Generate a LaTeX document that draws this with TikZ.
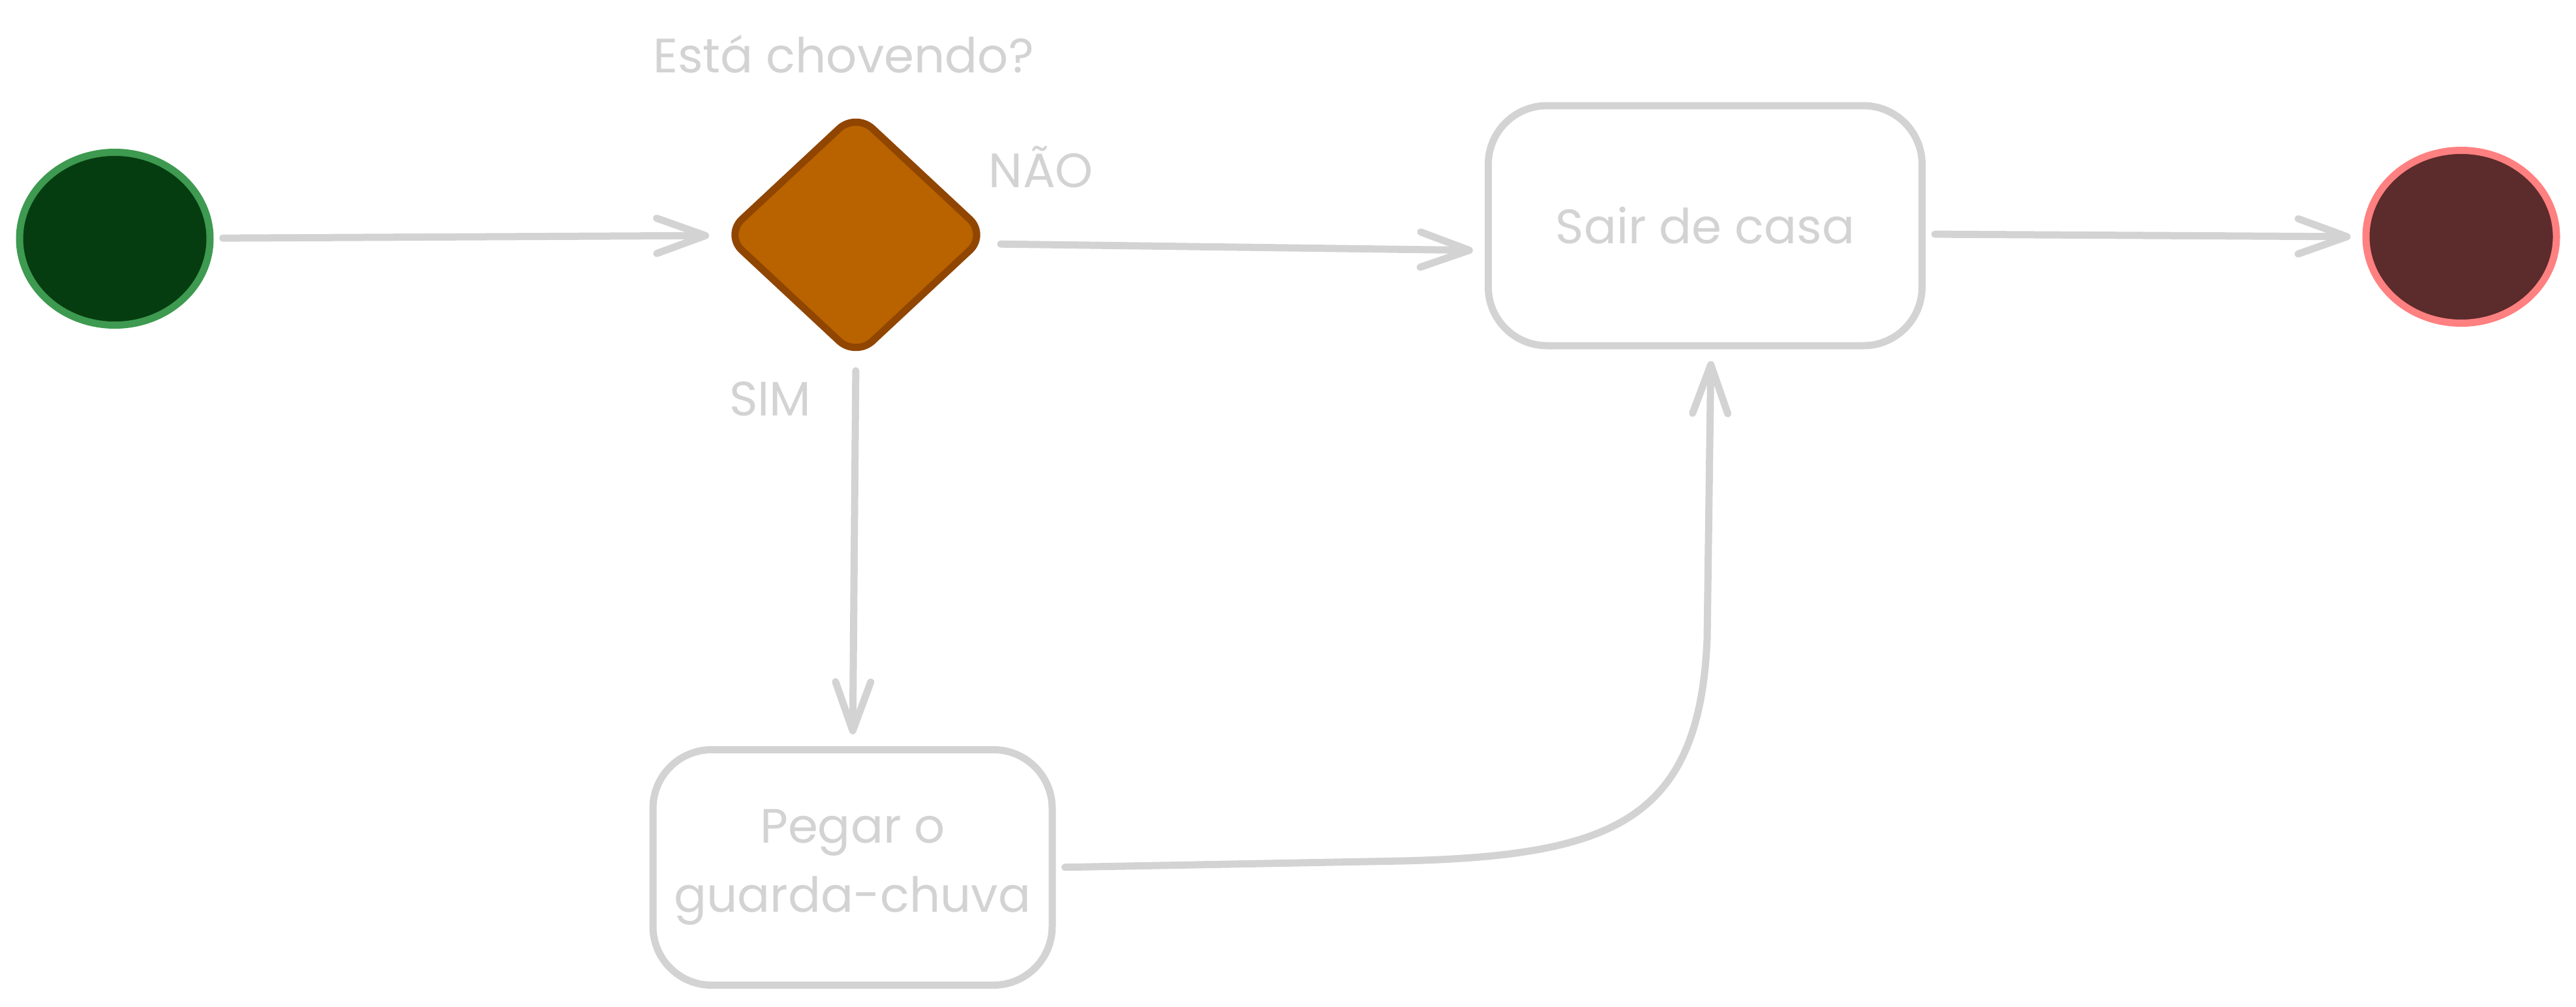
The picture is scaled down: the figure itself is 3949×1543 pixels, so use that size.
\documentclass[tikz,border=0pt]{standalone}
\usepackage{fontspec}
\setmainfont{Poppins}
\usetikzlibrary{shapes.geometric,arrows.meta}

\definecolor{lineGray}{HTML}{D3D3D3}
\definecolor{startFill}{HTML}{053D10}
\definecolor{startLine}{HTML}{3D9A50}
\definecolor{decFill}{HTML}{B86200}
\definecolor{decLine}{HTML}{904500}
\definecolor{endFill}{HTML}{5C2B2B}
\definecolor{endLine}{HTML}{FF8080}

\begin{document}
\begin{tikzpicture}[x=1pt,y=-1pt,
    lbl/.style={text=lineGray,font=\fontsize{74}{106}\selectfont},
    initial/.style={ellipse,draw=startLine,fill=startFill,line width=11pt,
        minimum width=292pt,minimum height=265pt,inner sep=0pt},
    final/.style={ellipse,draw=endLine,fill=endFill,line width=11pt,
        minimum width=292pt,minimum height=265pt,inner sep=0pt},
    decision/.style={diamond,draw=decLine,fill=decFill,line width=11pt,
        minimum width=405pt,minimum height=378pt,inner sep=0pt,rounded corners=35pt},
    action/.style={rectangle,draw=lineGray,fill=white,line width=11pt,
        rounded corners=90pt,lbl,align=center},
    flow/.style={draw=lineGray,line width=11pt,line cap=round,
        -{Straight Barb[length=75pt,width=54pt,round]},
        shorten <=14pt,shorten >=18pt}]
\fill[white] (0,0) rectangle (3949,1543);
\useasboundingbox (0,0) rectangle (3949,1543);

% states
\node[initial] (start) at (176,366) {};
\node[decision] (dec) at (1312,360) {};
\node[action,minimum width=665pt,minimum height=368pt] (sair) at (2614,346) {Sair de casa};
\node[action,minimum width=612pt,minimum height=361pt] (pegar) at (1307,1330) {Pegar o\\guarda-chuva};
\node[final] (end) at (3773,363) {};

% labels
\node[lbl,anchor=base] (pergunta) at (1293,111) {Está chovendo?};
\node[lbl,anchor=base] (nao) at (1596,287) {NÃO};
\node[lbl,anchor=base] (sim) at (1181,637) {SIM};

% transitions
\draw[flow] (start) -- (dec);
\draw[flow] ([yshift=-14pt]dec.east) -- ([yshift=-38pt]sair.west);
\draw[flow] ([yshift=-13pt]sair.east) -- (end.west);
\draw[flow] (dec.south) -- (pegar.north);
\draw[flow] (pegar.east) -- (2150,1320) .. controls (2470,1312) and (2605,1260) .. (2617,980)
    -- ([xshift=9pt]sair.south);
\end{tikzpicture}
\end{document}
